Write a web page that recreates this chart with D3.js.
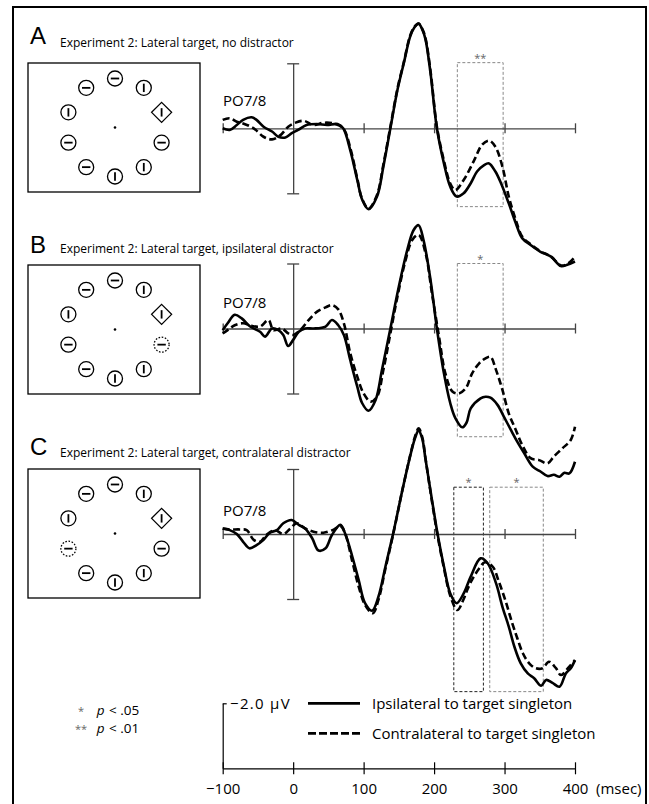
<!DOCTYPE html>
<html>
<head>
<meta charset="utf-8">
<script src="https://cdn.jsdelivr.net/npm/d3@7"></script>
<style>
  body { margin: 0; background: #fff; }
  svg { display: block; font-family: 'Open Sans', sans-serif; }
</style>
</head>
<body>
<svg id="chart" width="649" height="804"></svg>
<script>
// time axis (msec) and calibration
const timeTicks = [-100, 0, 100, 200, 300, 400];
const zeroTicks = [-100, 100, 200, 300, 400];
const calibUV = -2.0;

// waveforms, [msec, microvolts]; negative is plotted up
const ipsiA = [[-100,0],[-90,0.05],[-80,-0.1],[-71,-0.26],[-59,-0.34],[-52,-0.26],[-42,-0.05],[-30,0.1],[-21,0.26],[-11,0.28],[-2,0.15],[7,0.05],[19,-0.1],[34,-0.13],[48,-0.1],[63,-0.13],[71,0],[81,0.67],[91,1.59],[98,2.2],[107,2.49],[119,2.1],[128,1.18],[138,0],[148,-1.18],[157,-2.0],[166,-2.82],[172,-3.1],[178,-3.22],[184,-3.0],[188,-2.72],[195,-1.69],[204,0],[214,1.08],[223,1.8],[232,2.1],[242,2.0],[252,1.69],[261,1.33],[271,1.13],[278,1.08],[287,1.33],[295,1.69],[306,2.31],[316,2.92],[325,3.38],[337,3.59],[351,3.8],[366,3.95],[380,4.24],[389,4.2],[400,4.1]];
const contraA = [[-100,-0.26],[-90,-0.31],[-80,-0.2],[-71,-0.15],[-56,0],[-42,0.26],[-30,0.34],[-18,0.21],[-7,-0.05],[3,-0.17],[15,-0.23],[29,-0.1],[43,-0.17],[57,-0.15],[71,0],[81,0.6],[91,1.55],[98,2.18],[107,2.47],[119,2.05],[128,1.12],[138,-0.05],[148,-1.22],[157,-2.03],[166,-2.85],[172,-3.12],[178,-3.22],[184,-3.02],[188,-2.75],[195,-1.75],[204,-0.05],[214,1.0],[223,1.7],[230,1.9],[242,1.59],[257,0.98],[268,0.51],[278,0.38],[287,0.57],[297,1.18],[306,2.1],[316,2.82],[325,3.33],[337,3.57],[351,3.78],[366,3.95],[380,4.22],[389,4.18],[400,3.95]];

const ipsiB = [[-100,0.05],[-93,-0.16],[-83,-0.42],[-73,-0.31],[-61,-0.06],[-47,0.1],[-40,0.25],[-30,0],[-21,0.05],[-14,0.2],[-7,0.54],[0,0.35],[8,0.1],[17,0],[29,0],[46,-0.06],[55,-0.26],[64,-0.1],[72,0.2],[81,0.97],[91,1.79],[98,2.3],[107,2.53],[117,2.2],[126,1.28],[138,0],[150,-1.29],[162,-2.42],[171,-3.03],[178,-3.18],[185,-2.72],[195,-1.49],[204,0],[214,1.38],[223,2.3],[230,2.75],[240,3.04],[246,2.9],[252,2.46],[266,2.15],[273,2.1],[280,2.13],[290,2.35],[299,2.71],[309,3.12],[318,3.48],[328,3.84],[340,4.25],[351,4.4],[361,4.54],[370,4.5],[378,4.56],[385,4.44],[392,4.46],[400,4.1]];
const contraB = [[-100,0.15],[-93,0.05],[-83,-0.1],[-71,-0.16],[-59,-0.08],[-47,-0.06],[-35,-0.26],[-28,0.05],[-16,0],[-7,0.15],[0,0.2],[10,0.05],[22,-0.26],[34,-0.52],[46,-0.65],[55,-0.72],[64,-0.59],[72,-0.16],[81,0.76],[91,1.48],[100,2.0],[110,2.25],[119,2.1],[128,1.28],[138,0.15],[148,-0.98],[159,-2.06],[169,-2.72],[178,-2.88],[188,-2.31],[197,-1.08],[207,0.25],[216,1.38],[226,1.94],[235,2.0],[245,1.84],[254,1.38],[264,1.07],[273,0.92],[280,0.87],[288,1.28],[297,1.89],[306,2.61],[316,3.12],[325,3.58],[337,3.99],[349,4.05],[361,4.15],[370,3.94],[382,3.69],[394,3.43],[400,3.02]];

const ipsiC = [[-100,-0.17],[-90,-0.12],[-80,0],[-71,0.24],[-62,0.44],[-52,0.34],[-42,0.18],[-33,-0.04],[-23,-0.12],[-14,-0.33],[-2,-0.43],[8,-0.28],[17,-0.17],[27,0.13],[36,0.51],[46,0.44],[55,0.03],[67,-0.28],[74,0],[84,0.7],[93,1.42],[102,2.13],[112,2.36],[121,1.93],[131,1.0],[143,-0.12],[155,-1.35],[167,-2.48],[173,-2.95],[178,-3.18],[183,-2.95],[188,-2.28],[197,-1.05],[205,0],[214,1.0],[223,1.83],[232,2.13],[242,1.83],[252,1.31],[266,0.75],[276,0.9],[288,1.52],[297,2.24],[306,2.85],[314,3.47],[323,3.98],[333,4.29],[342,4.44],[352,4.67],[359,4.49],[368,4.58],[378,4.7],[387,4.29],[394,4.13],[400,3.88]];
const contraC = [[-100,-0.17],[-90,-0.14],[-76,-0.14],[-66,-0.12],[-56,0.18],[-47,0.24],[-38,0.03],[-26,-0.12],[-14,0],[-4,-0.17],[5,-0.33],[17,-0.17],[29,-0.07],[43,-0.04],[58,-0.14],[67,-0.25],[74,0],[84,0.85],[93,1.62],[102,2.18],[113,2.44],[121,2.03],[131,1.06],[143,-0.1],[155,-1.35],[167,-2.5],[173,-3.0],[178,-3.25],[183,-3.0],[188,-2.3],[197,-1.0],[205,0.05],[214,1.05],[223,1.9],[233,2.34],[242,2.0],[247,1.72],[254,1.4],[264,1.06],[272,0.87],[283,1.0],[292,1.47],[302,2.1],[311,2.75],[318,3.2],[326,3.67],[335,3.98],[344,4.13],[354,4.13],[363,3.93],[373,4.13],[380,4.34],[390,4.13],[400,3.88]];

// analysis windows: msec range, microvolt extent, significance mark
const windowsA = [{ from: 233, to: 298, top: -2.02, bottom: 2.41, mark: '**', dark: false }];
const windowsB = [{ from: 233, to: 298, top: -2.0, bottom: 3.33, mark: '*', dark: false }];
const windowsC = [{ from: 228, to: 270, top: -1.44, bottom: 4.85, mark: '*', dark: true },
                  { from: 279, to: 355, top: -1.44, bottom: 4.85, mark: '*', dark: false }];

// search display, clockwise from 12 o'clock
// o = circle, d = diamond (target), x = dashed circle (distractor); h/v = bar orientation
const itemsA = ['oh', 'ov', 'dv', 'oh', 'ov', 'ov', 'oh', 'oh', 'ov', 'oh'];
const itemsB = ['oh', 'ov', 'dv', 'xh', 'ov', 'ov', 'oh', 'oh', 'ov', 'oh'];
const itemsC = ['oh', 'ov', 'dv', 'oh', 'ov', 'ov', 'oh', 'xh', 'ov', 'oh'];

const letters = ['A', 'B', 'C'];
const titles = ['Experiment 2: Lateral target, no distractor',
                'Experiment 2: Lateral target, ipsilateral distractor',
                'Experiment 2: Lateral target, contralateral distractor'];
const channel = 'PO7/8';
const legendLabels = ['Ipsilateral to target singleton', 'Contralateral to target singleton'];
const pLabels = [['*', '< .05'], ['**', '< .01']];

const panels = [
  { ipsi: ipsiA, contra: contraA, windows: windowsA, items: itemsA, zero: 128.3, boxTop: 63, letterY: 43.5, titleY: 46.5, labelY: 106 },
  { ipsi: ipsiB, contra: contraB, windows: windowsB, items: itemsB, zero: 328.5, boxTop: 265, letterY: 253, titleY: 252.5, labelY: 308 },
  { ipsi: ipsiC, contra: contraC, windows: windowsC, items: itemsC, zero: 534, boxTop: 469, letterY: 455, titleY: 456.5, labelY: 516 }
];

const svg = d3.select('#chart');
const pxPerUV = 32.5;

const x = d3.scaleLinear()
            .domain([-100, 400])
            .range([222.7, 575]);

// outer frame (open at the bottom)
svg.append('rect')
   .attr('x', 13).attr('y', 7)
   .attr('width', 633).attr('height', 820)
   .attr('fill', 'none')
   .attr('stroke', '#000')
   .attr('stroke-width', 2);

panels.forEach((p, i) => {
  const y = d3.scaleLinear()
              .domain([-2, 2])
              .range([p.zero - 2 * pxPerUV, p.zero + 2 * pxPerUV]);

  svg.append('text')
     .attr('x', 30).attr('y', p.letterY)
     .style('font-family', "'Liberation Sans', Arial, sans-serif")
     .style('font-size', '24px')
     .text(letters[i]);

  svg.append('text')
     .attr('x', 60).attr('y', p.titleY)
     .style('font-size', '12px')
     .text(titles[i]);

  // search display
  const box = { x: 28, y: p.boxTop, w: 172, h: 129 };
  const cx = box.x + box.w / 2 + 1, cy = box.y + box.h / 2;
  const disp = svg.append('g');
  disp.append('rect')
      .attr('x', box.x).attr('y', box.y)
      .attr('width', box.w).attr('height', box.h)
      .attr('fill', 'none').attr('stroke', '#000').attr('stroke-width', 1.3);
  disp.append('circle')
      .attr('cx', cx).attr('cy', cy).attr('r', 1.3).attr('fill', '#000');

  p.items.forEach((code, k) => {
    const a = k * Math.PI / 5;
    const ix = cx + 49 * Math.sin(a);
    const iy = cy - 49 * Math.cos(a);
    const shape = code[0], orient = code[1];
    if (shape === 'd') {
      disp.append('path')
          .attr('d', `M${ix},${iy - 10}L${ix + 10},${iy}L${ix},${iy + 10}L${ix - 10},${iy}Z`)
          .attr('fill', '#fff').attr('stroke', '#000').attr('stroke-width', 1.3);
    } else {
      disp.append('circle')
          .attr('cx', ix).attr('cy', iy).attr('r', 7.5)
          .attr('fill', '#fff').attr('stroke', '#000').attr('stroke-width', 1.3)
          .attr('stroke-dasharray', shape === 'x' ? '1.6,1.6' : null);
    }
    const half = 4.2;
    disp.append('line')
        .attr('x1', orient === 'h' ? ix - half : ix)
        .attr('x2', orient === 'h' ? ix + half : ix)
        .attr('y1', orient === 'h' ? iy : iy - half)
        .attr('y2', orient === 'h' ? iy : iy + half)
        .attr('stroke', '#000').attr('stroke-width', 1.8);
  });

  // analysis windows
  p.windows.forEach(w => {
    const stroke = w.dark ? '#222' : '#888';
    svg.append('rect')
       .attr('x', x(w.from)).attr('y', y(w.top))
       .attr('width', x(w.to) - x(w.from))
       .attr('height', y(w.bottom) - y(w.top))
       .attr('fill', 'none')
       .attr('stroke', stroke)
       .attr('stroke-width', 1)
       .attr('stroke-dasharray', '3,2');
    svg.append('text')
       .attr('x', (x(w.from) + x(w.to)) / 2)
       .attr('y', y(w.top) - 1)
       .attr('text-anchor', 'middle')
       .style('font-size', '11px')
       .attr('fill', '#666')
       .text(w.mark);
  });

  // zero line with ticks
  const zeroAxis = d3.axisBottom(x)
                     .tickValues(zeroTicks)
                     .tickSize(5)
                     .tickSizeOuter(0)
                     .tickFormat('');
  const zg = svg.append('g')
                .attr('transform', `translate(0, ${p.zero})`)
                .call(zeroAxis);
  zg.selectAll('.tick line').attr('y1', -5).attr('stroke', '#444').attr('stroke-width', 1.3);
  zg.select('.domain').attr('stroke', '#444').attr('stroke-width', 1.3);

  // voltage axis at stimulus onset
  const vAxis = d3.axisLeft(y)
                  .tickValues([-2, 2])
                  .tickSize(6)
                  .tickSizeOuter(0)
                  .tickFormat('');
  const vg = svg.append('g')
                .attr('transform', `translate(${x(0)}, 0)`)
                .call(vAxis);
  vg.selectAll('.tick line').attr('x1', 6).attr('stroke', '#444').attr('stroke-width', 1.3);
  vg.select('.domain').attr('stroke', '#444').attr('stroke-width', 1.3);

  svg.append('text')
     .attr('x', 223).attr('y', p.labelY)
     .style('font-size', '15px')
     .text(channel);

  const line = d3.line()
                 .x(d => x(d[0]))
                 .y(d => y(d[1]))
                 .curve(d3.curveCatmullRom.alpha(0.5));

  svg.append('path')
     .datum(p.ipsi)
     .attr('d', line)
     .attr('fill', 'none')
     .attr('stroke', '#000')
     .attr('stroke-width', 2.6)
     .attr('stroke-linejoin', 'round');

  svg.append('path')
     .datum(p.contra)
     .attr('d', line)
     .attr('fill', 'none')
     .attr('stroke', '#000')
     .attr('stroke-width', 2.6)
     .attr('stroke-dasharray', '7,3.5');
});

// calibration: time axis and voltage bar
const calZero = 768.3;
const yCal = d3.scaleLinear()
               .domain([0, calibUV])
               .range([calZero, calZero - 2 * pxPerUV]);

const calAxis = d3.axisBottom(x)
                  .tickValues(timeTicks)
                  .tickSize(6)
                  .tickSizeOuter(0);
const cg = svg.append('g')
              .attr('transform', `translate(0, ${calZero})`)
              .call(calAxis);
cg.selectAll('.tick line').attr('y1', -6).attr('stroke', '#000').attr('stroke-width', 1.2);
cg.select('.domain').attr('stroke', '#000').attr('stroke-width', 1.2);
cg.selectAll('.tick text')
  .attr('y', 25.5).attr('dy', null)
  .attr('fill', '#000')
  .style('font-family', "'Open Sans', sans-serif")
  .style('font-size', '15px');

svg.append('text')
   .attr('x', x(400) + 21).attr('y', calZero + 25.5)
   .style('font-size', '15px')
   .text('(msec)');

const calBar = d3.axisRight(yCal)
                 .tickValues([calibUV])
                 .tickSize(4)
                 .tickSizeOuter(0)
                 .tickFormat('');
const bg = svg.append('g')
              .attr('transform', `translate(${x(-100)}, 0)`)
              .call(calBar);
bg.selectAll('.tick line').attr('stroke', '#000').attr('stroke-width', 1.2);
bg.select('.domain').attr('stroke', '#000').attr('stroke-width', 1.2);

svg.append('text')
   .attr('x', 230).attr('y', yCal(calibUV) + 5.5)
   .style('font-size', '15px')
   .style('letter-spacing', '1.3px')
   .text('\u22122.0 \u03bcV');

// legend
legendLabels.forEach((lab, i) => {
  const ly = yCal(calibUV) + i * 30;
  svg.append('line')
     .attr('x1', 308).attr('x2', 360)
     .attr('y1', ly).attr('y2', ly)
     .attr('stroke', '#000')
     .attr('stroke-width', 2.7)
     .attr('stroke-dasharray', i === 0 ? null : '8,3');
  svg.append('text')
     .attr('x', 372).attr('y', ly + 5.5)
     .style('font-size', '15px')
     .text(lab);
});

// significance key
pLabels.forEach((pl, i) => {
  const py = 715 + i * 18;
  svg.append('text')
     .attr('x', 81).attr('y', py)
     .attr('text-anchor', 'middle')
     .attr('fill', '#666')
     .style('font-size', '11px')
     .text(pl[0]);
  svg.append('text')
     .attr('x', 96.7).attr('y', py)
     .style('font-size', '13.5px')
     .style('font-style', 'italic')
     .text('p');
  svg.append('text')
     .attr('x', 109).attr('y', py)
     .style('font-size', '13.5px')
     .text(pl[1]);
});
</script>
</body>
</html>
